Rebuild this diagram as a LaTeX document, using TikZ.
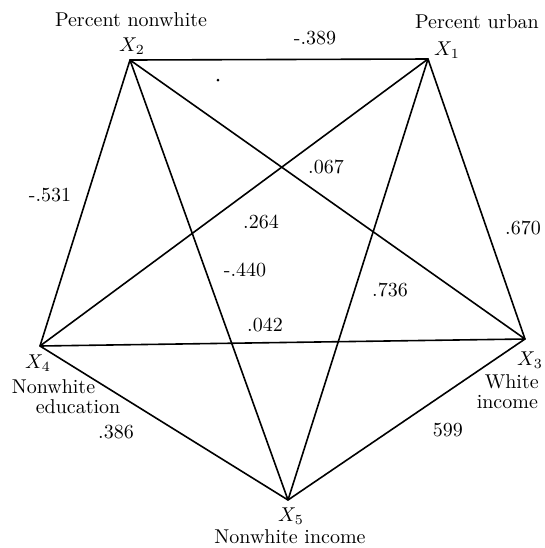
\documentclass[tikz,border=0pt]{standalone}
\usetikzlibrary{positioning}

\begin{document}
\begin{tikzpicture}[
  x=0.5pt, y=-0.5pt,
  every path/.style={line width=0.8pt},
  corr/.style={inner sep=1pt},
  var/.style={inner sep=1pt},
  varname/.style={inner sep=1pt,align=center}
]
  \useasboundingbox (0,0) rectangle (545,548);
  % corners of the pentagon
  \coordinate (x1) at (428,59);
  \coordinate (x2) at (130,60);
  \coordinate (x3) at (525,339);
  \coordinate (x4) at (40,346);
  \coordinate (x5) at (288,500);
  % variable labels
  \node[var] (lx1) at (447,50) {$X_1$};
  \node[var] (lx2) at (132,46) {$X_2$};
  \node[var] (lx3) at (530,360) {$X_3$};
  \node[var] (lx4) at (38,363) {$X_4$};
  \node[var] (lx5) at (291,516) {$X_5$};
  \node[varname] (urban) at (477,22) {Percent urban};
  \node[varname] (nonwhite) at (131,20) {Percent nonwhite};
  \node[varname,align=left,anchor=west] (whiteinc) at (474,392) {\hspace*{0.4em}White\\[-2pt]income};
  \node[varname,align=left,anchor=west] (nwedu) at (9,397) {Nonwhite\\[-2pt]\hspace*{1.2em}education};
  \node[varname] (nwinc) at (290,537) {Nonwhite income};
  % the ten links
  \draw (x2) -- (x1) -- (x3) -- (x5) -- (x4) -- cycle;
  \draw (x2) -- (x3);
  \draw (x2) -- (x5);
  \draw (x4) -- (x1);
  \draw (x4) -- (x3);
  \draw (x1) -- (x5);
  % correlations
  \node[corr] (r12) at (315,38) {-.389};
  \node[corr] (r13) at (523,228) {.670};
  \node[corr] (r35) at (448,430) {599};
  \node[corr] (r45) at (116,432) {.386};
  \node[corr] (r24) at (50,195) {-.531};
  \node[corr] (r23) at (326,167) {.067};
  \node[corr] (r14) at (261,222) {.264};
  \node[corr] (r25) at (245,270) {-.440};
  \node[corr] (r34) at (265,325) {.042};
  \node[corr] (r15) at (390,290) {.736};
  \fill (218,80) circle (1.5);
\end{tikzpicture}
\end{document}
